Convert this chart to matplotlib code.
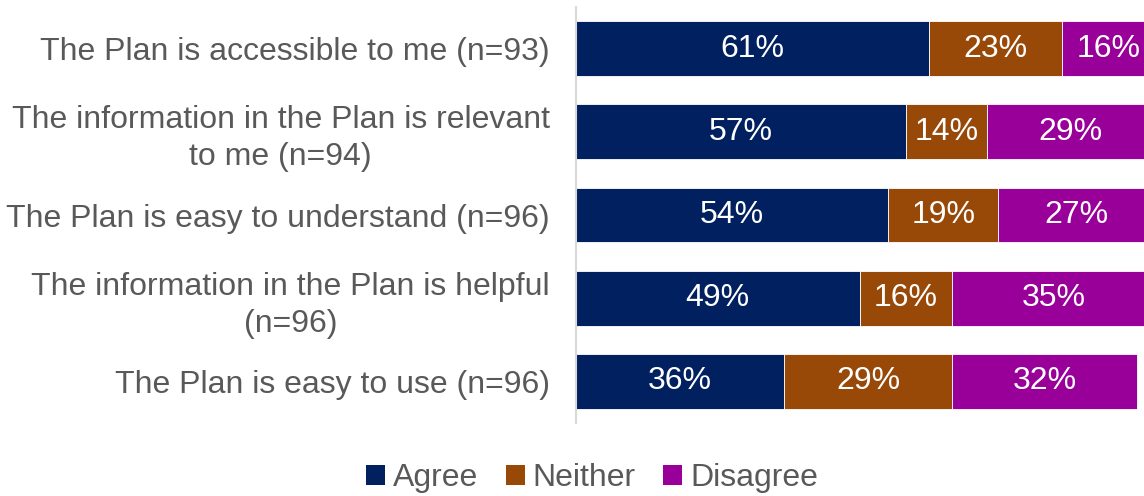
import matplotlib
matplotlib.use("Agg")
import matplotlib.pyplot as plt
from matplotlib.patches import Patch
import numpy as np

plt.rcParams['font.family'] = ['Liberation Sans', 'DejaVu Sans']

statements = [
    "The Plan is accessible to me (n=93)",
    "The information in the Plan is relevant\nto me (n=94)",
    "The Plan is easy to understand (n=96)",
    "The information in the Plan is helpful\n(n=96)",
    "The Plan is easy to use (n=96)",
]
agree = [61, 57, 54, 49, 36]
neither = [23, 14, 19, 16, 29]
disagree = [16, 29, 27, 35, 32]
series_names = ["Agree", "Neither", "Disagree"]
colors = ["#002060", "#984807", "#990099"]

FS = 23
W, H = 1144, 496
fig = plt.figure(figsize=(W / 100, H / 100), dpi=100)
# the value axis runs a little beyond the right edge of the canvas
ax = fig.add_axes([576 / W, (H - 423) / H, 578.7 / W, 416 / H])

y = np.arange(len(statements))
left = np.zeros(len(statements))
for name, vals, col in zip(series_names, [agree, neither, disagree], colors):
    vals = np.array(vals, dtype=float)
    ax.barh(y, vals, left=left, height=0.66, color=col,
            edgecolor="white", linewidth=0.6, label=name)
    for yi, l, v in zip(y, left, vals):
        ax.text(l + v / 2, yi, f"{int(v)}%", ha="center", va="center",
                color="white", fontsize=FS)
    left += vals

ax.set_xlim(0, 100)
ax.set_ylim(len(statements) - 0.5, -0.5)
ax.set_yticks(y)
ax.set_yticklabels(statements, fontsize=FS, color="#595959")
for lbl in ax.get_yticklabels():
    lbl.set_multialignment("center")
    lbl.set_linespacing(1.3)
ax.tick_params(axis="y", length=0, pad=19)
ax.set_xticks([])
for s in ["top", "right", "bottom"]:
    ax.spines[s].set_visible(False)
ax.spines["left"].set_color("#D9D9D9")
ax.spines["left"].set_linewidth(1.5)

handles = [Patch(facecolor=c, label=n) for n, c in zip(series_names, colors)]
leg = fig.legend(handles=handles, loc="center", bbox_to_anchor=(592 / W, 1 - 478 / H),
                 ncol=3, frameon=False, fontsize=FS, handlelength=0.6,
                 handleheight=0.6, handletextpad=0.25, columnspacing=0.85)
for t in leg.get_texts():
    t.set_color("#595959")

fig.savefig("out.png", dpi=100)
